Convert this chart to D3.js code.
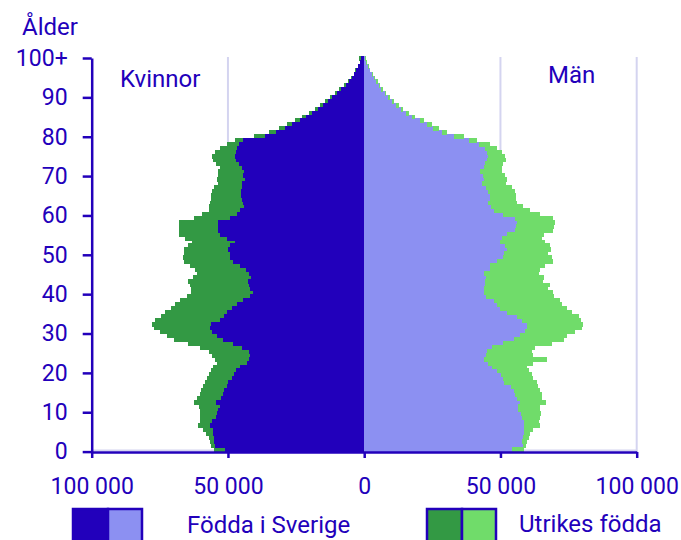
<!DOCTYPE html>
<html><head><meta charset="utf-8">
<script src="https://cdn.jsdelivr.net/npm/d3@7"></script>
<style>body{margin:0;background:#fff}svg{display:block}</style>
</head><body><svg id="c" width="681" height="540"></svg>
<script>
// ---------- data ----------
const ages = d3.range(0, 101);
const ageTicks = [0, 10, 20, 30, 40, 50, 60, 70, 80, 90, 100];
const ageTickLabels = ["0", "10", "20", "30", "40", "50", "60", "70", "80", "90", "100+"];
const xTickValues = [-100000, -50000, 0, 50000, 100000];
const legendLabels = ["Födda i Sverige", "Utrikes födda"];
const sideLabels = ["Kvinnor", "Män"];
const axisTitle = "Ålder";

const womenSweden = [
 51000,54700,55000,55000,55500,55500,56500,55900,54300,54100,
 53800,53100,54300,52600,51900,51300,50400,49800,48600,47700,
 47000,45500,43100,42100,41800,42400,44900,48000,51900,54100,
 55900,56500,56300,52800,51600,50200,48600,46700,44300,41800,
 40900,41800,42400,42800,41500,42400,43300,45500,48000,49200,
 49400,49800,49200,47300,50200,53100,53500,53800,53800,49200,
 46700,45500,44000,44500,44900,45100,45300,44900,44900,43700,
 44300,44000,44900,46100,47000,47300,47100,46700,46100,44500,
 36300,32500,29200,26500,23600,21400,19000,16800,15000,13400,
 11700,9900,8500,6800,5700,4600,3600,3100,2200,1400,
 1200];
const womenForeign = [
 4300,1600,1500,2100,2500,3500,4500,4500,5900,6300,
 6600,7700,8300,8600,8500,8500,8800,8500,9100,9400,
 9300,10000,11000,12600,14100,14700,15300,16500,17800,18300,
 19200,20800,21600,23900,23000,22800,22300,22700,23200,23300,
 22700,21700,21500,22000,21400,19000,18700,18400,18100,17300,
 16900,16300,15300,15900,15500,14700,14600,14300,14000,13400,
 12900,11600,12900,12000,11400,11000,10600,10100,8600,10400,
 9500,9500,7900,8200,8500,8600,7600,6100,4100,3000,
 4300,2600,2200,1900,1700,1500,1400,1200,1100,900,
 800,700,600,500,400,300,300,200,200,100,
 600];
const menSweden = [
 54200,58200,57900,58100,58500,58700,58700,58500,57900,57500,
 56600,56300,57200,56000,55400,54800,53800,51400,50900,50200,
 48700,46900,45600,44000,44800,45000,46900,51100,54800,57000,
 59100,59700,59700,57900,56000,52400,49900,48900,47500,44800,
 44000,44000,44400,44400,44800,44000,46000,46200,48700,50900,
 51400,52400,51700,49900,50500,52400,55400,55800,56000,55400,
 51100,47500,46500,45600,46200,46000,45600,44800,43200,44000,
 43500,42600,43800,44400,45000,45400,45000,44400,42000,38300,
 32800,28500,25400,23000,20600,17500,15400,13500,11700,10300,
 8900,7500,6200,5300,4400,3500,2700,2000,1300,700,
 300];
const menForeign = [
 4300,1300,1800,2200,2400,3400,5900,5800,6700,7300,
 8000,8300,9600,9200,9800,9800,9800,12000,11200,11300,
 11600,12800,16300,23000,17300,16500,15900,17800,18400,17400,
 18300,20200,20500,21600,22700,23800,24500,23600,24400,24700,
 25200,23600,23900,21200,21000,20300,18600,20200,20500,18000,
 16200,16100,16300,16500,14700,13400,13800,14000,14100,13800,
 13500,13400,11700,10400,9600,9700,9800,9400,8900,8400,
 8200,7900,6700,6700,7000,6300,5500,4500,4200,3000,
 3700,1800,1900,1800,1200,1200,900,700,900,800,
 600,600,700,600,500,500,400,200,300,300,
 200];

// ---------- style ----------
const C = {
  ink: "#2200bb",
  womenSwe: "#2200bb",
  menSwe: "#8c90f2",
  womenFor: "#339944",
  menFor: "#70dc6a",
  grid: "#d4d4f0"
};
const FONT = "Roboto, 'Noto Sans', sans-serif";

const svg = d3.select("#c");
const x = d3.scaleLinear().domain([-100000, 100000]).range([91.7, 636.7]);
const yAxisScale = d3.scaleLinear().domain([0, 100]).range([451.6, 58.0]);
const yBand = d3.scaleBand().domain(ages).range([450.5, 56]).padding(0);
const bh = yBand.bandwidth();

// gridlines
svg.append("g").selectAll("line").data([-50000, 50000, 100000]).join("line")
  .attr("x1", d => x(d)).attr("x2", d => x(d))
  .attr("y1", 57).attr("y2", 452)
  .attr("stroke", C.grid).attr("stroke-width", 2);
svg.append("line").attr("x1", x(-100000)).attr("x2", x(100000))
  .attr("y1", 450.3).attr("y2", 450.3).attr("stroke", C.grid).attr("stroke-width", 1.5);

// bars
const rows = ages.map((a, i) => ({
  age: a, ws: womenSweden[i], wf: womenForeign[i], ms: menSweden[i], mf: menForeign[i]
}));
const bars = svg.append("g").attr("shape-rendering", "crispEdges");
function layer(cls, color, x0f, x1f) {
  bars.selectAll("rect." + cls).data(rows).join("rect").attr("class", cls)
    .attr("x", d => Math.min(x(x0f(d)), x(x1f(d))))
    .attr("width", d => Math.abs(x(x1f(d)) - x(x0f(d))))
    .attr("y", d => yBand(d.age))
    .attr("height", bh + 1)
    .attr("fill", color);
}
layer("wf", C.womenFor, d => -(d.ws + d.wf), d => -d.ws);
layer("ws", C.womenSwe, d => -d.ws, d => 0);
layer("ms", C.menSwe, d => 0, d => d.ms);
layer("mf", C.menFor, d => d.ms, d => d.ms + d.mf);

// axes
const fmt = d3.formatLocale({decimal: ",", thousands: " ", grouping: [3], currency: ["", ""]}).format(",");
const xAxis = svg.append("g").attr("transform", "translate(0,452)")
  .call(d3.axisBottom(x).tickValues(xTickValues).tickSize(6).tickSizeOuter(0).tickPadding(20)
    .tickFormat(d => fmt(Math.abs(d))));
const yAxis = svg.append("g").attr("transform", `translate(${x(-100000)},0)`)
  .call(d3.axisLeft(yAxisScale).tickValues(ageTicks).tickSize(9).tickSizeOuter(0).tickPadding(15)
    .tickFormat((d, i) => ageTickLabels[i]));
[xAxis, yAxis].forEach(g => {
  g.select(".domain").attr("stroke", C.ink).attr("stroke-width", 2.5);
  g.selectAll(".tick line").attr("stroke", C.ink).attr("stroke-width", 2.5);
  g.selectAll(".tick text").attr("fill", C.ink).style("font-family", FONT).style("font-size", "23px");
});

// titles
const txt = (s, xx, yy, size) => svg.append("text").text(s).attr("x", xx).attr("y", yy)
  .attr("fill", C.ink).style("font-family", FONT).style("font-size", size + "px");
txt(axisTitle, 22, 35, 24);
txt(sideLabels[0], 120, 87, 24);
txt(sideLabels[1], 548, 83, 24);

// legend
const legend = [
  {label: legendLabels[0], c1: C.womenSwe, c2: C.menSwe, x: 73, tx: 187, ty: 533},
  {label: legendLabels[1], c1: C.womenFor, c2: C.menFor, x: 427, tx: 519, ty: 532}
];
const lg = svg.append("g").selectAll("g").data(legend).join("g");
lg.append("rect").attr("x", d => d.x).attr("y", 509).attr("width", 35).attr("height", 40)
  .attr("fill", d => d.c1).attr("stroke", C.ink).attr("stroke-width", 2.5);
lg.append("rect").attr("x", d => d.x + 35).attr("y", 509).attr("width", 34).attr("height", 40)
  .attr("fill", d => d.c2).attr("stroke", C.ink).attr("stroke-width", 2.5);
lg.append("text").text(d => d.label).attr("x", d => d.tx).attr("y", d => d.ty)
  .attr("fill", C.ink).style("font-family", FONT).style("font-size", "24px");
</script>
</body></html>
